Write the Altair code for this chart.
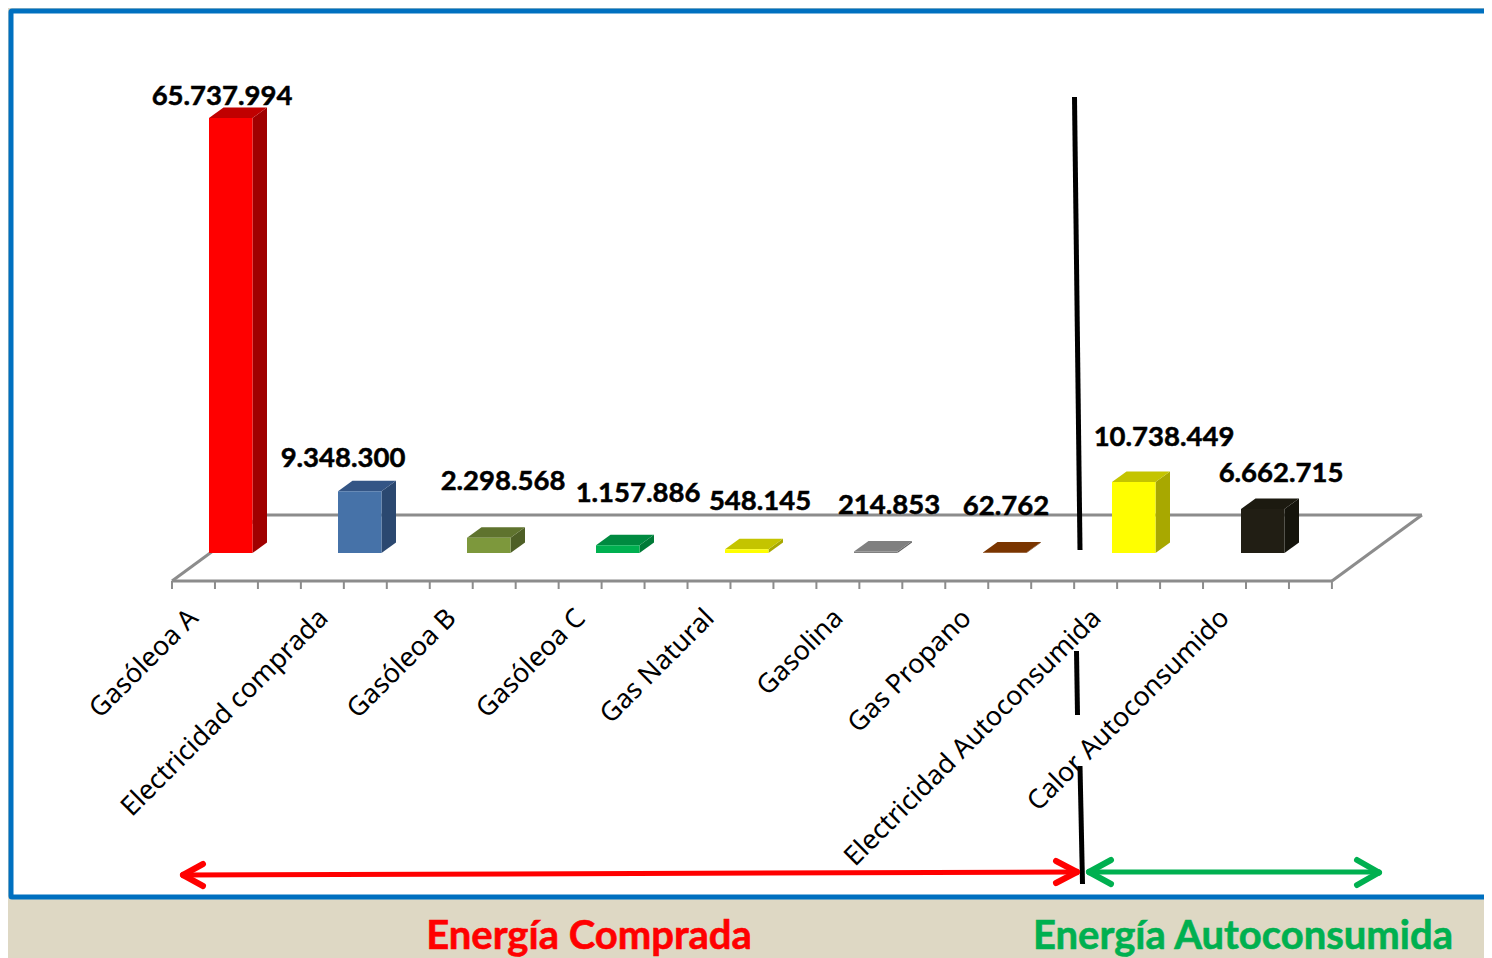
import altair as alt
import pandas as pd

# ---- chart values
categories = ["Gasóleoa A", "Electricidad comprada", "Gasóleoa B", "Gasóleoa C", "Gas Natural",
              "Gasolina", "Gas Propano", "Electricidad Autoconsumida", "Calor Autoconsumido"]
values = [65737994, 9348300, 2298568, 1157886, 548145, 214853, 62762, 10738449, 6662715]
value_labels = ["65.737.994", "9.348.300", "2.298.568", "1.157.886", "548.145",
                "214.853", "62.762", "10.738.449", "6.662.715"]
front_colors = ["#ff0000", "#4672a8", "#7d983c", "#00b050", "#ffff00", "#808080", "#7a3500", "#ffff00", "#211e14"]
top_colors = ["#c00000", "#345585", "#5f732e", "#008a40", "#c4c400", "#808080", "#7a3500", "#c4c400", "#1c1a10"]
side_colors = ["#a00000", "#2b4870", "#4e5f26", "#007a37", "#a8a800", "#606060", "#5a2800", "#a8a800", "#15140c"]

# ---- layout (pixels of the 1492x958 page; chart origin sits at 8,8)
W, H = 1476, 950
STEP = 129.0          # px per category
TICK_STEP = 42.96
PX_PER_UNIT = 435 / 65737994
LEFT0, BASE = 209, 553
BAR_W, DEPTH_X, DEPTH_Y = 43.5, 14.5, 10.5
FLOOR_X0, FLOOR_Y, FLOOR_DX, FLOOR_DY, TICK_LEN = 172, 581, 90, 66, 8
label_dx = [13, 5, 36, 42, 35, 35, 23, 52, 40]
label_dy = [21, 32, 56, 51, 47, 46, 46, 44, 35]
tick_end_x = [194, 324, 452, 581, 710, 839, 967, 1097, 1225]
TICK_LABEL_Y = 614


def ux(px):
    return px / STEP


def uy(px):
    return px / PX_PER_UNIT


x_scale = alt.Scale(domain=[(8 - LEFT0) / STEP, (8 + W - LEFT0) / STEP], range=[0, W], nice=False, zero=False)
y_scale = alt.Scale(domain=[(BASE - 8 - H) / PX_PER_UNIT, (BASE - 8) / PX_PER_UNIT], range=[H, 0], nice=False, zero=False)
X = lambda f: alt.X(f, type="quantitative", scale=x_scale, axis=None)
Y = lambda f: alt.Y(f, type="quantitative", scale=y_scale, axis=None, stack=None)


def rule(x1, y1, x2, y2, color, width, cap="butt"):
    return alt.Chart(pd.DataFrame({"a": [0]})).mark_rule(color=color, strokeWidth=width, strokeCap=cap).encode(
        x=alt.value(x1 - 8), y=alt.value(y1 - 8), x2=alt.value(x2 - 8), y2=alt.value(y2 - 8))


def text(s, x, y, color, size, font, weight, angle=0, align="center", stroke=0):
    return alt.Chart(pd.DataFrame({"t": [s]})).mark_text(
        color=color, fontSize=size, font=font, fontWeight=weight, angle=angle, align=align, baseline="middle",
        stroke=color, strokeWidth=stroke
    ).encode(x=alt.value(x - 8), y=alt.value(y - 8), text="t:N")


# ---- bars
w, dx, dy = ux(BAR_W), ux(DEPTH_X), uy(DEPTH_Y)
fronts, sides, tops, labs = [], [], [], []
for i, v in enumerate(values):
    fronts.append({"x": i, "x2": i + w, "y": v, "y2": 0, "c": front_colors[i]})
    sides += [{"k": i, "x": i + w, "y": v, "y2": 0, "c": side_colors[i]},
              {"k": i, "x": i + w + dx, "y": v + dy, "y2": dy, "c": side_colors[i]}]
    tops += [{"k": i, "x": i, "y": v, "y2": v, "c": top_colors[i]},
             {"k": i, "x": i + dx, "y": v + dy, "y2": v, "c": top_colors[i]},
             {"k": i, "x": i + w, "y": v + dy, "y2": v, "c": top_colors[i]},
             {"k": i, "x": i + w + dx, "y": v + dy, "y2": v + dy, "c": top_colors[i]}]
    labs.append({"x": i + ux(label_dx[i]), "y": v + uy(label_dy[i]), "t": value_labels[i]})

side_layer = alt.Chart(pd.DataFrame(sides)).mark_area(orient="vertical", interpolate="linear").encode(
    x=X("x"), y=Y("y"), y2="y2:Q", detail="k:N", color=alt.Color("c:N", scale=None))
top_layer = alt.Chart(pd.DataFrame(tops)).mark_area(orient="vertical", interpolate="linear").encode(
    x=X("x"), y=Y("y"), y2="y2:Q", detail="k:N", color=alt.Color("c:N", scale=None))
front_layer = alt.Chart(pd.DataFrame(fronts)).mark_rect().encode(
    x=X("x"), x2="x2:Q", y=Y("y"), y2="y2:Q", color=alt.Color("c:N", scale=None))
value_layer = alt.Chart(pd.DataFrame(labs)).mark_text(
    font="Lato", fontSize=27.5, fontWeight="bold", color="#000000", align="center", baseline="middle",
    stroke="#000000", strokeWidth=0.5
).encode(x=X("x"), y=Y("y"), text="t:N")

# ---- floor in data units
fx0 = ux(FLOOR_X0 - LEFT0)
fy = uy(BASE - FLOOR_Y)
fdx, fdy = ux(FLOOR_DX), uy(FLOOR_DY)
n_ticks = 28
fx1 = fx0 + ux((n_ticks - 1) * TICK_STEP)
floor = pd.DataFrame([
    {"x": fx0, "y": fy, "x2": fx1, "y2": fy},
    {"x": fx0, "y": fy, "x2": fx0 + fdx, "y2": fy + fdy},
    {"x": fx1, "y": fy, "x2": fx1 + fdx, "y2": fy + fdy},
    {"x": fx0 + fdx, "y": fy + fdy, "x2": fx1 + fdx, "y2": fy + fdy},
])
floor_layer = alt.Chart(floor).mark_rule(color="#8c8c8c", strokeWidth=3).encode(
    x=X("x"), y=Y("y"), x2="x2:Q", y2="y2:Q")
ticks = pd.DataFrame({"x": [fx0 + ux(k * TICK_STEP) for k in range(n_ticks)]})
ticks["y"] = fy
ticks["y2"] = fy - uy(TICK_LEN)
tick_layer = alt.Chart(ticks).mark_rule(color="#8c8c8c", strokeWidth=2).encode(
    x=X("x"), y=Y("y"), y2="y2:Q")

# ---- frame and beige band
frame = alt.Chart(pd.DataFrame({"a": [0]})).mark_rect(
    fill="#ffffff", stroke="#0070c0", strokeWidth=5, cornerRadius=1
).encode(x=alt.value(3), x2=alt.value(1500), y=alt.value(3), y2=alt.value(889))

layers = [frame, floor_layer, tick_layer, side_layer, top_layer, front_layer]

# ---- separators
layers += [rule(1074.5, 97, 1080, 550, "#000000", 5),
           rule(1076.5, 651, 1077.5, 715, "#000000", 5),
           rule(1080, 766, 1082.5, 884, "#000000", 5)]

# ---- arrows
RED, GREEN = "#ff0000", "#00b050"
layers += [rule(184, 875, 1075, 872, RED, 5),
           rule(183, 875, 203, 864, RED, 6, "round"), rule(183, 875, 203, 886, RED, 6, "round"),
           rule(1077, 872, 1056, 861, RED, 6, "round"), rule(1077, 872, 1056, 883, RED, 6, "round"),
           rule(1090, 872, 1378, 872, GREEN, 5),
           rule(1089, 872, 1111, 860, GREEN, 6, "round"), rule(1089, 872, 1111, 884, GREEN, 6, "round"),
           rule(1379, 872.5, 1357, 860, GREEN, 6, "round"), rule(1379, 872.5, 1357, 885, GREEN, 6, "round")]

# ---- texts
layers.append(value_layer)
for c, xe in zip(categories, tick_end_x):
    layers.append(text(c, xe, TICK_LABEL_Y, "#000000", 26.8, "Noto Sans", "normal", angle=315, align="right"))
layers += [text("Energía Comprada", 589, 937, RED, 40, "Lato", "bold", stroke=0.6),
           text("Energía Autoconsumida", 1243, 937, GREEN, 40, "Lato", "bold", stroke=0.6)]

chart = alt.layer(*layers).properties(
    width=W, height=H, padding=0, background="#ded8c4",
    autosize=alt.AutoSizeParams(type="none"),
).configure_view(stroke=None)

chart.save("out.html", embed_options={"renderer": "svg", "actions": False})
